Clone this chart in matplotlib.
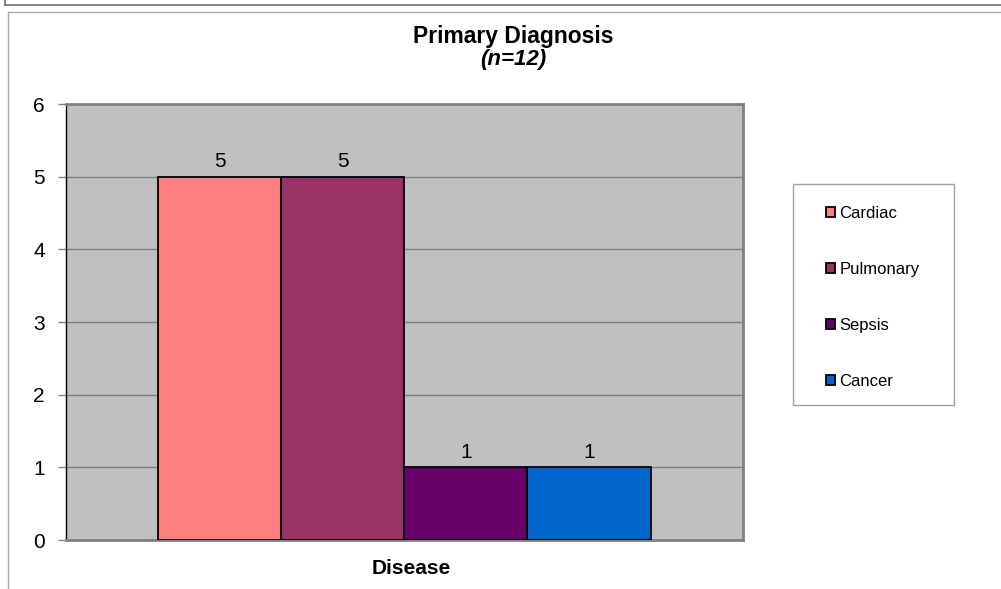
import numpy as np
import matplotlib
matplotlib.use("Agg")
import matplotlib.pyplot as plt
from matplotlib.patches import Rectangle
from matplotlib.lines import Line2D

plt.rcParams['font.family'] = ['Liberation Sans', 'DejaVu Sans']

# data
categories = ['Cardiac', 'Pulmonary', 'Sepsis', 'Cancer']
counts = [5, 5, 1, 1]
colors = ['#FF8080', '#993366', '#660066', '#0066CC']

W, H = 1001, 589
fig = plt.figure(figsize=(W / 100, H / 100), dpi=100)

def px(x, y):
    # pixel coords (top-left origin) -> figure fraction
    return x / W, 1 - y / H

# frame lines of the chart object
fig.add_artist(Line2D([5 / W, 1], [1 - 5 / H, 1 - 5 / H], color='#707070', lw=1.2))
fig.add_artist(Line2D([5 / W, 5 / W], [1, 1 - 5 / H], color='#707070', lw=1.2))
fig.add_artist(Line2D([8 / W, 1], [1 - 12 / H, 1 - 12 / H], color='#A8A8A8', lw=1))
fig.add_artist(Line2D([8 / W, 8 / W], [0, 1 - 12 / H], color='#A8A8A8', lw=1))

left, right, top, bottom = 65.5, 743, 104, 540
ax = fig.add_axes([left / W, 1 - bottom / H, (right - left) / W, (bottom - top) / H])
ax.set_facecolor('#C0C0C0')

x = np.arange(len(categories))
bars = ax.bar(x, counts, width=1.0, color=colors, edgecolor='black', linewidth=1.3,
              label=categories, zorder=3)
for b, v in zip(bars, counts):
    ax.annotate(str(v), (b.get_x() + b.get_width() / 2, v), xytext=(0, 4),
                textcoords='offset points', ha='center', va='bottom', fontsize=15)

ax.set_xlim(-1.25, 4.25)
ax.set_ylim(0, 6)
ax.set_yticks(range(0, 7))
ax.set_xticks([])
ax.yaxis.grid(True, color='#808080', lw=1)
ax.set_axisbelow(True)
ax.tick_params(axis='y', length=6, width=1, color='#808080', pad=9, labelsize=15)

for s in ['top', 'right', 'bottom']:
    ax.spines[s].set_color('#808080')
    ax.spines[s].set_linewidth(2)
ax.spines['left'].set_color('black')
ax.spines['left'].set_linewidth(1)

# titles
fig.text(513 / W, 1 - 36 / H, 'Primary Diagnosis', ha='center', va='center',
         fontsize=16.5, fontweight='bold')
fig.text(513 / W, 1 - 60 / H, '(n=12)', ha='center', va='center',
         fontsize=16, fontweight='bold', style='italic')
fig.text(411 / W, 1 - 568 / H, 'Disease', ha='center', va='center',
         fontsize=15, fontweight='bold')

# legend box
lx0, ly0, lx1, ly1 = 793, 184, 954, 405
fig.add_artist(Rectangle(px(lx0, ly1), (lx1 - lx0) / W, (ly1 - ly0) / H,
                         transform=fig.transFigure, facecolor='white',
                         edgecolor='#A0A0A0', lw=1))
leg = fig.legend(handles=list(bars), labels=categories, loc='upper left',
                 bbox_to_anchor=px(826, 206), frameon=False, fontsize=12,
                 handlelength=0.55, handleheight=0.55, handletextpad=0.25,
                 labelspacing=2.45, borderpad=0, borderaxespad=0)

fig.savefig('out.png', dpi=100)
